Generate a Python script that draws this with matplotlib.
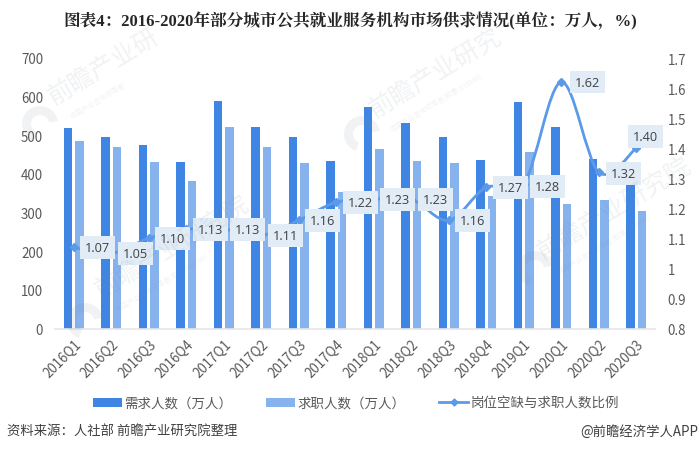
import numpy as np
import matplotlib
matplotlib.use("Agg")
import matplotlib.pyplot as plt
from matplotlib.path import Path
from matplotlib.patches import PathPatch, Wedge, Patch
from matplotlib.lines import Line2D
from matplotlib.transforms import IdentityTransform

SANS = ['Noto Sans CJK SC', 'DejaVu Sans']
plt.rcParams['font.family'] = SANS

categories = ['2016Q1', '2016Q2', '2016Q3', '2016Q4', '2017Q1', '2017Q2', '2017Q3', '2017Q4',
              '2018Q1', '2018Q2', '2018Q3', '2018Q4', '2019Q1', '2020Q1', '2020Q2', '2020Q3']
demand = [519, 496, 474, 431, 588, 521, 496, 433, 573, 531, 496, 437, 587, 521, 439, 385]
seekers = [485, 470, 431, 382, 521, 470, 429, 353, 464, 433, 429, 343, 457, 322, 332, 303]
ratio = [1.07, 1.05, 1.10, 1.13, 1.13, 1.11, 1.16, 1.22, 1.23, 1.23, 1.16, 1.27, 1.28, 1.62, 1.32, 1.40]
ratio_labels = ['1.07', '1.05', '1.10', '1.13', '1.13', '1.11', '1.16', '1.22',
                '1.23', '1.23', '1.16', '1.27', '1.28', '1.62', '1.32', '1.40']
left_ticks = [0, 100, 200, 300, 400, 500, 600, 700]
right_ticks = [0.8, 0.9, 1, 1.1, 1.2, 1.3, 1.4, 1.5, 1.6, 1.7]
right_tick_labels = ['0.8', '0.9', '1', '1.1', '1.2', '1.3', '1.4', '1.5', '1.6', '1.7']
series_names = ['需求人数（万人）', '求职人数（万人）', '岗位空缺与求职人数比例']
label_offsets_px = [(24, 0), (24, 0), (24, 0), (24, 0), (24, 0), (24, 0), (24, 0), (24, 0),
                    (24, 0), (24, 0), (24, 0), (24, 0), (24, -2), (26, 0), (25, -1), (9, 12)]

W, H = 700, 452
BLUE, LIGHT, LINE = '#3f85e3', '#86b2ee', '#5b9ae8'
TICK = '#595959'

fig = plt.figure(figsize=(W / 100, H / 100), dpi=100)
ax = fig.add_axes([55 / W, 1 - 329.5 / H, 600 / W, 270.5 / H])
ax2 = ax.twinx()
ax.set_zorder(1)
ax2.set_zorder(2)
ax2.patch.set_visible(False)

x = np.arange(len(categories))
bar_w = 8.7 / 37.5
gap = 11.3 / 37.5
ax.bar(x - gap / 2, demand, bar_w, color=BLUE, zorder=2)
ax.bar(x + gap / 2, seekers, bar_w, color=LIGHT, zorder=2)
ax.set_xlim(-0.5, len(categories) - 0.5)
ax.set_ylim(0, 700)
ax.set_yticks(left_ticks)
ax.set_xticks(x)
ax.set_xticklabels(categories, rotation=45, ha='right', rotation_mode='anchor')
ax.tick_params(axis='both', length=0, labelsize=9.6, labelcolor=TICK)
ax.tick_params(axis='y', pad=8.5)
ax.tick_params(axis='x', pad=6)
for s in ['top', 'left', 'right']:
    ax.spines[s].set_visible(False)
    ax2.spines[s].set_visible(False)
ax.spines['bottom'].set_color('#e6e6e6')
ax.spines['bottom'].set_linewidth(1.2)
ax2.spines['bottom'].set_visible(False)

ax2.set_ylim(0.8, 1.7)
ax2.set_yticks(right_ticks)
ax2.set_yticklabels(right_tick_labels)
ax2.tick_params(axis='y', length=0, labelsize=9.6, labelcolor=TICK, pad=9)

# smoothed line through the data points (Catmull-Rom as Bezier segments)
pts = np.column_stack([x, ratio])
verts = [tuple(pts[0])]
codes = [Path.MOVETO]
for i in range(len(pts) - 1):
    p0 = pts[max(i - 1, 0)]
    p1 = pts[i]
    p2 = pts[i + 1]
    p3 = pts[min(i + 2, len(pts) - 1)]
    verts += [tuple(p1 + (p2 - p0) / 6), tuple(p2 - (p3 - p1) / 6), tuple(p2)]
    codes += [Path.CURVE4] * 3
ax2.add_patch(PathPatch(Path(verts, codes), fill=False, edgecolor=LINE, lw=2.0, zorder=3))
ax2.plot(x, ratio, ls='none', marker='D', ms=4, color=LINE, zorder=4)
for xi, yi, s, off in zip(x, ratio, ratio_labels, label_offsets_px):
    ax2.annotate(s, (xi, yi), xytext=(off[0] * 0.72, off[1] * 0.72), textcoords='offset points',
                 ha='center', va='center', fontsize=9.2, color='#404040', zorder=5,
                 family=['Open Sans', 'DejaVu Sans'],
                 bbox=dict(boxstyle='square,pad=0.38', fc='#e1ecf7', ec='none'))

# faint watermarks
WM = '#7f8a99'
for px, py, s, sub in [(57, 110, '前瞻产业研', '中国产业咨询领导者'),
                       (103, 303, '前瞻产业研究院', '中国产业咨询领导者(股票:839599)'),
                       (377, 123, '前瞻产业研究', '中国产业咨询领导者(股票:839599)'),
                       (545, 265, '前瞻产业研究院', '中国产业咨询领导者(股票:839599)')]:
    fig.text(px / W, 1 - py / H, s, fontsize=18, color=WM, alpha=0.11, rotation=31,
             rotation_mode='anchor', ha='left', va='bottom', zorder=6)
    fig.text((px + 16) / W, 1 - (py + 11) / H, sub, fontsize=5, color=WM, alpha=0.11,
             rotation=31, rotation_mode='anchor', ha='left', va='bottom', zorder=6)
for cx, cy in [(40, 125), (85, 322), (362, 135), (535, 270)]:
    fig.add_artist(Wedge((cx, H - cy), 18, 10, 250, width=9, fc=WM, ec='none', alpha=0.11,
                         transform=IdentityTransform(), zorder=6))

fig.text(350 / W, 1 - 21 / H,
         '图表4：2016-2020年部分城市公共就业服务机构市场供求情况(单位：万人，%)',
         ha='center', va='center', fontsize=12, fontweight='bold', color='#262626',
         family=['Liberation Serif', 'Noto Serif CJK SC', 'Noto Sans CJK SC'])

handles = [Patch(fc=BLUE, ec='none'), Patch(fc=LIGHT, ec='none'),
           Line2D([], [], color=LINE, lw=2, marker='D', ms=3.5)]
fig.legend(handles, series_names, loc='center', bbox_to_anchor=(356 / W, 1 - 404 / H), ncol=3,
           frameon=False, fontsize=9.7, labelcolor=TICK, handlelength=2.15, handleheight=0.6,
           handletextpad=0.2, columnspacing=2.5)

fig.text(7 / W, 1 - 432 / H, '资料来源：人社部 前瞻产业研究院整理', ha='left', va='center',
         fontsize=9.6, color='#404040')
fig.text(698 / W, 1 - 432 / H, '@前瞻经济学人APP', ha='right', va='center', fontsize=9.6, color='#404040')

fig.savefig('out.png', dpi=100)
